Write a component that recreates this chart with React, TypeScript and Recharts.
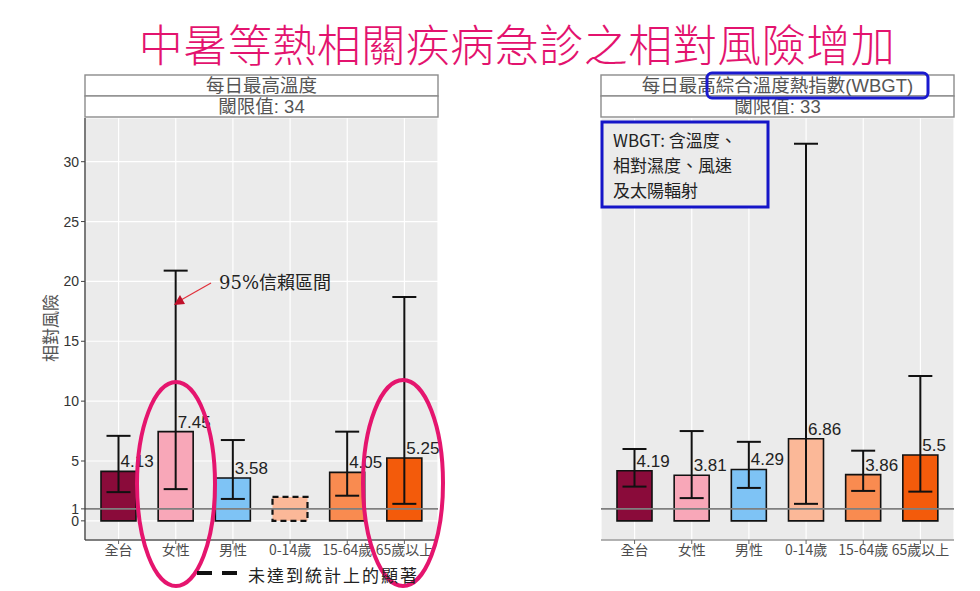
import React from 'react'
import {
    BarChart,
    Bar,
    Cell,
    XAxis,
    YAxis,
    CartesianGrid,
    ErrorBar,
    LabelList,
    ReferenceLine,
} from 'recharts'

// categories and tick values
const categories = ['全台', '女性', '男性', '0-14歲', '15-64歲', '65歲以上']
const yTicks = [0, 1, 5, 10, 15, 20, 25, 30]

// daily max temperature panel (threshold 34)
const tempRR = [4.13, 7.45, 3.58, 2.0, 4.05, 5.25]
const tempLow = [2.4, 2.65, 1.83, null, 2.1, 1.42]
const tempHigh = [7.1, 20.9, 6.75, null, 7.45, 18.7]
const tempSignificant = [true, true, true, false, true, true]

// daily max WBGT panel (threshold 33)
const wbgtRR = [4.19, 3.81, 4.29, 6.86, 3.86, 5.5]
const wbgtLow = [2.86, 1.9, 2.75, 1.42, 2.5, 2.44]
const wbgtHigh = [6.0, 7.5, 6.6, 31.5, 5.86, 12.1]
const wbgtSignificant = [true, true, true, true, true, true]

const barColors = ['#8A0B3A', '#F8A7B8', '#7EC3F5', '#FBB898', '#F98B50', '#F35B0B']

const FONT = '"Liberation Sans", "Noto Sans CJK TC", sans-serif'
const CJK = '"Noto Sans CJK TC", "Liberation Sans", sans-serif'

type Row = {
    cat: string
    rr: number
    err: number[] | null
    sig: boolean
}

const buildRows = (
    rr: number[],
    low: (number | null)[],
    high: (number | null)[],
    sig: boolean[]
): Row[] =>
    categories.map((cat, i) => ({
        cat,
        rr: rr[i],
        err:
            low[i] == null || high[i] == null
                ? null
                : [rr[i] - (low[i] as number), (high[i] as number) - rr[i]],
        sig: sig[i],
    }))

const tempRows = buildRows(tempRR, tempLow, tempHigh, tempSignificant)
const wbgtRows = buildRows(wbgtRR, wbgtLow, wbgtHigh, wbgtSignificant)

const ValueLabel = (props: any) => {
    const { x, y, width, value, index, rows } = props
    if (!rows[index].sig) return null
    return (
        <text
            x={x + width / 2 + 2}
            y={y - 4}
            fontSize={17}
            fontFamily={FONT}
            fill='#222'
            textAnchor='start'
        >
            {value}
        </text>
    )
}

const RiskPanel: React.FC<{ rows: Row[]; isLeft: boolean }> = ({ rows, isLeft }) => (
    <BarChart
        width={460}
        height={591}
        data={rows}
        margin={{ top: 118, right: 22, bottom: 21, left: 40 }}
    >
        <CartesianGrid fill='#EBEBEB' stroke='#FFFFFF' strokeWidth={1.2} />
        <XAxis
            dataKey='cat'
            interval={0}
            height={30}
            padding={{ left: 5, right: 5 }}
            tickSize={4}
            tickMargin={1}
            tickLine={{ stroke: '#666' }}
            axisLine={{ stroke: isLeft ? '#555' : '#999', strokeWidth: 1.4 }}
            tick={{ fontSize: 14, fill: '#4D4D4D', fontFamily: CJK }}
        />
        <YAxis
            type='number'
            width={45}
            domain={[-1.6, 33.65]}
            allowDataOverflow
            ticks={yTicks}
            interval={0}
            tickSize={4}
            tickMargin={2}
            tickLine={isLeft ? { stroke: '#444' } : false}
            tick={isLeft ? { fontSize: 14, fill: '#333', fontFamily: FONT } : false}
            axisLine={isLeft ? { stroke: '#444', strokeWidth: 1.4 } : false}
        />
        <Bar
            dataKey='rr'
            barSize={35}
            stroke='#111'
            strokeWidth={1.6}
            isAnimationActive={false}
        >
            {rows.map((r, i) => (
                <Cell
                    key={r.cat}
                    fill={barColors[i]}
                    strokeDasharray={r.sig ? undefined : '6 4'}
                    strokeWidth={r.sig ? 1.6 : 2.2}
                />
            ))}
            <ErrorBar dataKey='err' width={12} stroke='#111' strokeWidth={2} />
            <LabelList dataKey='rr' content={(p: any) => <ValueLabel {...p} rows={rows} />} />
        </Bar>
        <ReferenceLine y={1} stroke='#7F7F7F' strokeWidth={1.6} />
    </BarChart>
)

const Strip: React.FC<{ x: number; w: number; top: string; bottom: string }> = ({
    x,
    w,
    top,
    bottom,
}) => (
    <g>
        <rect x={x} y={75} width={w} height={21} fill='#fff' stroke='#8C8C8C' strokeWidth={1.4} />
        <rect x={x} y={96} width={w} height={21} fill='#fff' stroke='#8C8C8C' strokeWidth={1.4} />
        <text x={x + w / 2} y={92} textAnchor='middle' fontSize={18.5} fill='#555' fontFamily={FONT}>
            {top}
        </text>
        <text x={x + w / 2} y={113} textAnchor='middle' fontSize={18.5} fill='#555' fontFamily={FONT}>
            {bottom}
        </text>
    </g>
)

const App: React.FC = () => {
    return (
        <div
            style={{
                position: 'absolute',
                left: 0,
                top: 0,
                width: 980,
                height: 591,
                background: '#fff',
                overflow: 'hidden',
            }}
        >
            <div style={{ position: 'absolute', left: 0, top: 0 }}>
                <RiskPanel rows={tempRows} isLeft={true} />
            </div>
            <div style={{ position: 'absolute', left: 516, top: 0 }}>
                <RiskPanel rows={wbgtRows} isLeft={false} />
            </div>
            <svg
                width={980}
                height={591}
                style={{ position: 'absolute', left: 0, top: 0, pointerEvents: 'none' }}
            >
                <text
                    x={517}
                    y={62}
                    textAnchor='middle'
                    fontSize={44}
                    fill='#E3136E'
                    fontFamily={CJK}
                    fontWeight={300}
                    letterSpacing={0.5}
                >
                    中暑等熱相關疾病急診之相對風險增加
                </text>

                <Strip x={85} w={353} top='每日最高溫度' bottom='閾限值: 34' />
                <Strip x={601} w={353} top='每日最高綜合溫度熱指數(WBGT)' bottom='閾限值: 33' />
                <rect x={707} y={73} width={221} height={25} rx={5} fill='none' stroke='#1A1ACF' strokeWidth={3} />

                <text
                    transform='translate(57,328) rotate(-90)'
                    textAnchor='middle'
                    fontSize={17}
                    fill='#555'
                    fontFamily={CJK}
                >
                    相對風險
                </text>

                {/* WBGT note */}
                <rect x={602} y={122} width={166} height={85} fill='#EBEBEB' stroke='#1515C8' strokeWidth={3} />
                <text x={613} y={147} fontSize={17} fill='#222' fontFamily={CJK}>WBGT: 含溫度、</text>
                <text x={613} y={172} fontSize={17} fill='#222' fontFamily={CJK}>相對濕度、風速</text>
                <text x={613} y={197} fontSize={17} fill='#222' fontFamily={CJK}>及太陽輻射</text>

                {/* 95% CI annotation */}
                <line x1={211} y1={283} x2={181} y2={300} stroke='#E0303A' strokeWidth={1.2} />
                <polygon points='174,305 180,295 185,304' fill='#C0102A' />
                <text x={219} y={289} fontSize={18} fill='#222' fontFamily='"DejaVu Serif", "Noto Sans CJK TC", serif'>
                    95%信賴區間
                </text>

                {/* highlight ellipses */}
                <ellipse cx={176} cy={484} rx={39} ry={102} fill='none' stroke='#E5156E' strokeWidth={4} />
                <ellipse cx={403} cy={483} rx={40} ry={103} fill='none' stroke='#E5156E' strokeWidth={4} />

                {/* legend */}
                <line x1={197} y1={573} x2={212} y2={573} stroke='#111' strokeWidth={4} />
                <line x1={222} y1={573} x2={237} y2={573} stroke='#111' strokeWidth={4} />
                <text x={248} y={582} fontSize={17} letterSpacing={2} fill='#222' fontFamily={CJK}>
                    未達到統計上的顯著
                </text>
            </svg>
        </div>
    )
}

export default App
